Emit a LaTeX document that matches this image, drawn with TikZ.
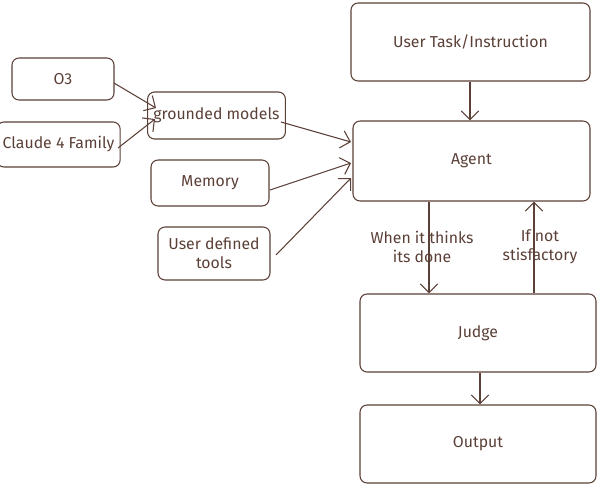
\documentclass[tikz,border=0pt]{standalone}
\usepackage{fontspec}
\setmainfont{Fira Sans}
\usetikzlibrary{arrows.meta, positioning}
\definecolor{ink}{HTML}{5B4038}
\tikzset{
    box/.style={rectangle, rounded corners=4pt, draw=ink, line width=0.6pt, text=ink, align=center, font=\small},
    arrow/.style={draw=ink, line width=0.6pt, ->, >={Straight Barb[length=5pt]}},
    lbl/.style={text=ink, align=center, font=\small}
}
\begin{document}
\begin{tikzpicture}[x=0.02cm, y=-0.02cm]
    \useasboundingbox (0,0) rectangle (600,487);
    % Nodes
    \node (o3) [box, minimum width=2.04cm, minimum height=0.84cm] at (63,79) {O3};
    \node (claude) [box, minimum width=2.22cm, minimum height=0.9cm] at (58.5,144.5) {Claude 4 Family};
    \node (grounded) [box, minimum width=2.38cm, minimum height=0.94cm] at (216.5,115.5) {grounded models};
    \node (memory) [box, minimum width=2.36cm, minimum height=0.92cm] at (210,183) {Memory};
    \node (tools) [box, minimum width=2.24cm, minimum height=1.06cm] at (214,253.5) {User defined\\tools};
    \node (task) [box, minimum width=4.78cm, minimum height=1.56cm] at (470.5,42) {User Task/Instruction};
    \node (agent) [box, minimum width=4.74cm, minimum height=1.6cm] at (471.5,161) {Agent};
    \node (judge) [box, minimum width=4.72cm, minimum height=1.56cm] at (478,333) {Judge};
    \node (output) [box, minimum width=4.72cm, minimum height=1.56cm] at (478,444) {Output};
    \node (done) [lbl] at (422,247) {When it thinks\\its done};
    \node (retry) [lbl] at (540,247) {If not\\stisfactory};
    % Arrows
    \draw [arrow] (114,83) -- (156,108);
    \draw [arrow] (118,148) -- (155,119);
    \draw [arrow] (281,122) -- (351,142);
    \draw [arrow] (270,190) -- (351,163);
    \draw [arrow] (276,255) -- (351,178);
    \draw [arrow] (task.south -| 470,0) -- (agent.north -| 470,0);
    \draw [arrow] (agent.south -| 429,0) -- (judge.north -| 429,0);
    \draw [arrow] (judge.north -| 534,0) -- (agent.south -| 534,0);
    \draw [arrow] (judge.south -| 480,0) -- (output.north -| 480,0);
\end{tikzpicture}
\end{document}
